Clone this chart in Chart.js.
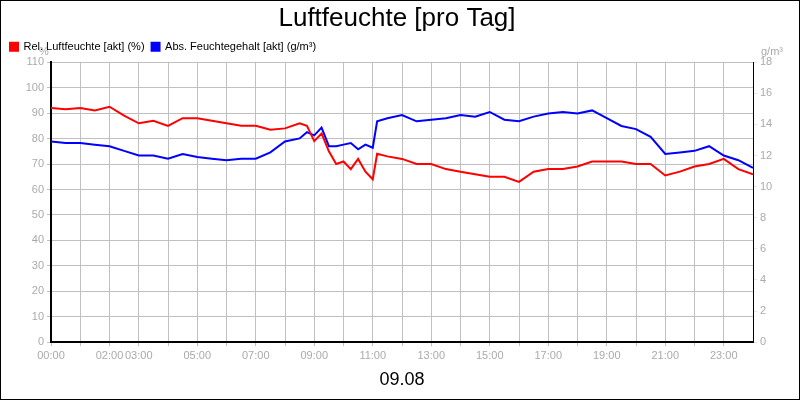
<!DOCTYPE html>
<html><head><meta charset="utf-8">
<style>
  body { margin: 0; background: #fff; }
  #wrap { width: 798px; height: 398px; border: 1px solid #000; }
</style>
</head><body>
<div id="wrap"><canvas id="c" width="798" height="398"></canvas></div>
<script src="https://cdn.jsdelivr.net/npm/chart.js"></script>
<script>
const hours = [0,0.5,1,1.5,2,2.5,3,3.5,4,4.5,5,5.5,6,6.5,7,7.5,8,8.5,8.75,9,9.25,9.5,9.75,10,10.25,10.5,10.75,11,11.15,11.5,12,12.5,13,13.5,14,14.5,15,15.5,16,16.5,17,17.5,18,18.5,19,19.5,20,20.5,21,21.5,22,22.5,23,23.5,24];
const relHumidity = [92,91.5,92,91,92.5,89,86,87,85,88,88,87,86,85,85,83.5,84,86,85,79,82,75,70,71,68,72,67,64,74,73,72,70,70,68,67,66,65,65,63,67,68,68,69,71,71,71,70,70,65.5,67,69,70,72,68,66];
const absHumidity = [12.9,12.8,12.8,12.7,12.6,12.3,12.0,12.0,11.8,12.1,11.9,11.8,11.7,11.8,11.8,12.2,12.9,13.1,13.5,13.3,13.8,12.6,12.6,12.7,12.8,12.4,12.7,12.5,14.2,14.4,14.6,14.2,14.3,14.4,14.6,14.5,14.8,14.3,14.2,14.5,14.7,14.8,14.7,14.9,14.4,13.9,13.7,13.2,12.1,12.2,12.3,12.6,12.0,11.7,11.2];
const shownLabels = [0,2,3,5,7,9,11,13,15,17,19,21,23];

const axisText = {
  id: 'axisText',
  afterDraw(chart) {
    const ctx = chart.ctx;
    ctx.save();
    ctx.font = '11px Arial, "Liberation Sans"';
    ctx.fillStyle = '#aaa';
    ctx.textAlign = 'left';
    ctx.fillText('%', 38, 51);
    ctx.textAlign = 'right';
    ctx.fillText('g/m³', 782, 51);
    ctx.restore();
  }
};

new Chart(document.getElementById('c'), {
  type: 'line',
  data: {
    datasets: [
      { label: 'Rel. Luftfeuchte [akt] (%)', data: hours.map((h, i) => ({ x: h, y: relHumidity[i] })), borderColor: '#ff0000', backgroundColor: '#ff0000', yAxisID: 'y', borderWidth: 2, pointRadius: 0, tension: 0 },
      { label: 'Abs. Feuchtegehalt [akt] (g/m³)', data: hours.map((h, i) => ({ x: h, y: absHumidity[i] })), borderColor: '#0000ff', backgroundColor: '#0000ff', yAxisID: 'y2', borderWidth: 2, pointRadius: 0, tension: 0 }
    ]
  },
  options: {
    responsive: false,
    animation: false,
    layout: { padding: { left: 2, right: 8, top: 0, bottom: 4 } },
    plugins: {
      title: { display: true, text: 'Luftfeuchte [pro Tag]', color: '#000', font: { family: 'Arial, "Liberation Sans"', size: 26, weight: 'normal' }, padding: { top: 2, bottom: 0 } },
      legend: {
        align: 'start',
        labels: { boxWidth: 8, boxHeight: 8, color: '#000', font: { family: 'Arial, "Liberation Sans"', size: 11 }, padding: 7 }
      },
      tooltip: { enabled: false }
    },
    scales: {
      x: {
        type: 'linear', min: 0, max: 24,
        afterBuildTicks: axis => { axis.ticks = Array.from({ length: 24 }, (_, i) => ({ value: i })); },
        ticks: {
          autoSkip: false, maxRotation: 0, color: '#aaa', font: { family: 'Arial, "Liberation Sans"', size: 11 },
          callback: v => shownLabels.includes(v) ? String(v).padStart(2, '0') + ':00' : ''
        },
        grid: { color: '#c0c0c0', tickLength: 4 },
        border: { color: '#000', width: 2 },
        title: { display: true, text: '09.08', color: '#000', font: { family: 'Arial, "Liberation Sans"', size: 18 }, padding: { top: 4 } }
      },
      y: {
        position: 'left', min: 0, max: 110,
        afterFit: axis => { axis.width = 48; },
        ticks: { stepSize: 10, color: '#aaa', font: { family: 'Arial, "Liberation Sans"', size: 11 } },
        grid: { color: '#c0c0c0', tickLength: 4 },
        border: { color: '#000', width: 2 }
      },
      y2: {
        position: 'right', min: 0, max: 18,
        afterFit: axis => { axis.width = 38; },
        ticks: { stepSize: 2, color: '#aaa', font: { family: 'Arial, "Liberation Sans"', size: 11 } },
        grid: { drawOnChartArea: false, tickLength: 4 },
        border: { color: '#000', width: 1 }
      }
    }
  },
  plugins: [axisText]
});
</script>
</body></html>
